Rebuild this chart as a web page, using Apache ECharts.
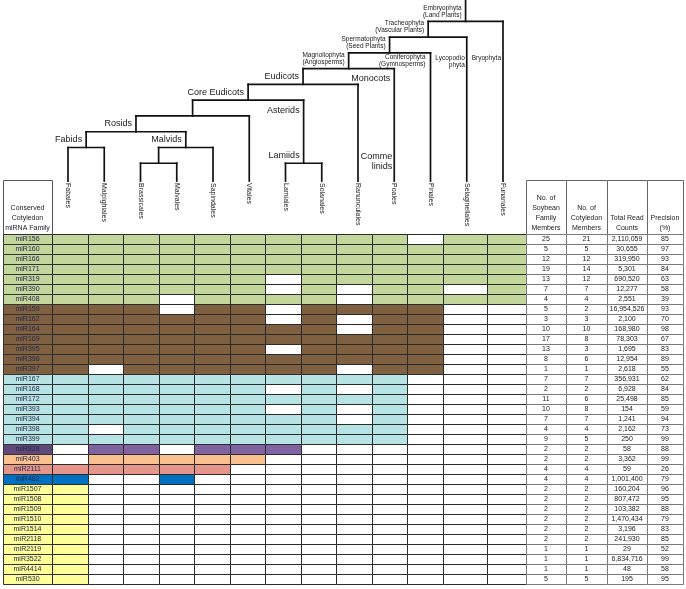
<!DOCTYPE html>
<html><head><meta charset="utf-8">
<script src="https://cdn.jsdelivr.net/npm/echarts@6/dist/echarts.min.js"></script>
<style>html,body{margin:0;padding:0;background:#fff}#c{width:686px;height:589px}</style>
</head><body><div id="c"></div>
<script>
// ---------------- DATA ----------------
const taxa = ['Fabales','Malpighiales','Brassicales','Malvales','Sapindales','Vitales','Lamiales','Solanales','Ranunculales','Poales','Pinales','Selaginellales','Funariales'];

const mirnas = ['miR156','miR160','miR166','miR171','miR319','miR390','miR408',
  'miR159','miR162','miR164','miR169','miR395','miR396','miR397',
  'miR167','miR168','miR172','miR393','miR394','miR398','miR399',
  'miR828','miR403','miR2111','miR482',
  'miR1507','miR1508','miR1509','miR1510','miR1514','miR2118','miR2119','miR3522','miR4414','miR530'];

// group of each row (0 green, 1 brown, 2 cyan, 3 purple, 4 peach, 5 salmon, 6 blue, 7 yellow)
const rowGroups = [0,0,0,0,0,0,0, 1,1,1,1,1,1,1, 2,2,2,2,2,2,2, 3,4,5,6, 7,7,7,7,7,7,7,7,7,7];

// presence of each family in each order (1 = present), columns follow `taxa`
const presence = [
  '1111111111011','1111111111111','1111111111111','1111111111111','1111110111111','1111110101101','1110111101111',
  '1110110111100','1111110101100','1111111101100','1111111111100','1111110111100','1111111111100','1011111101100',
  '1111111111000','1111110101000','1111111111000','1111110101000','1111111101000','1011111111000','1111111111000',
  '0110111000000','0111110000000','1111100000000','1001000000000',
  '1000000000000','1000000000000','1000000000000','1000000000000','1000000000000',
  '1000000000000','1000000000000','1000000000000','1000000000000','1000000000000'];

const soybeanMembers   = [25,5,12,19,13,7,4, 5,3,10,17,13,8,1, 7,2,11,10,7,4,9, 2,2,4,4, 2,2,2,2,2,2,1,1,1,5];
const cotyledonMembers = [21,5,12,14,12,7,4, 2,3,10,8,3,6,1, 7,2,6,8,7,4,5, 2,2,4,4, 2,2,2,2,2,2,1,1,1,5];
const totalReadCounts  = [2110059,30655,319950,5301,690520,12277,2551,
  16954526,2100,168980,78303,1695,12954,2618,
  356931,6928,25498,154,1241,2162,250,
  58,3362,59,1001400,
  160204,807472,103382,1470434,3196,241930,29,6834716,48,195];
const precision = [85,97,93,84,63,58,39, 93,70,98,67,83,89,55, 62,84,85,59,94,73,99, 88,99,26,79, 96,95,88,79,83,85,52,99,58,95];

const labelHeader = 'Conserved\nCotyledon\nmiRNA Family';
const rightHeaders = ['No. of\nSoybean\nFamily\nMembers','No. of\nCotyledon\nMembers','Total Read\nCounts','Precision\n(%)'];

// phylogeny: leaves are indices into `taxa`, level = rank of the node
const tree = {id:'Embryophyta', level:10, children:[
  {id:'Tracheophyta', level:9, children:[
    {id:'Spermatophyta', level:8, children:[
      {id:'Magnoliophyta', level:7, children:[
        {id:'Eudicots', level:6, children:[
          {id:'CoreEudicots', level:5, children:[
            {id:'Core', level:4, children:[
              {id:'Rosids', level:3, children:[
                {id:'Fabids', level:2, children:[0,1]},
                {id:'Malvids', level:2, children:[{id:'BraMal', level:1, children:[2,3]}, 4]}
              ]}, 5]},
            {id:'Lamiids', level:1, children:[6,7]}
          ]}, 8]}, 9]}, 10]}, 11]}, 12]};

const nodeLabels = [
  {text:'Embryophyta\n(Land Plants)', node:'Embryophyta'},
  {text:'Tracheophyta\n(Vascular Plants)', node:'Tracheophyta'},
  {text:'Spermatophyta\n(Seed Plants)', node:'Spermatophyta'},
  {text:'Magnoliophyta\n(Angiosperms)', node:'Magnoliophyta'},
  {text:'Eudicots', node:'Eudicots'},
  {text:'Core Eudicots', node:'CoreEudicots'},
  {text:'Rosids', node:'Rosids'},
  {text:'Fabids', node:'Fabids'},
  {text:'Malvids', node:'Malvids'},
  {text:'Lamiids', node:'Lamiids'}
];
const branchLabels = [
  {text:'Asterids', branch:'Lamiids'},
  {text:'Monocots', branch:9},
  {text:'Comme\nlinids', branch:9},
  {text:'Coniferophyta\n(Gymnosperms)', branch:10},
  {text:'Lycopodio\nphyta', branch:11},
  {text:'Bryophyta', branch:12}
];

// ---------------- LAYOUT / STYLE ----------------
const FONT = '"Liberation Sans", Arial, sans-serif';
const groupFill = ['#c3d69b','#7f6141','#b7e3e4','#8064a2','#fac090','#e6958a','#0070c0','#ffff99'];
const groupLabelFill = ['#c3d69b','#7f6141','#b7e3e4','#5f497a','#fac090','#e6958a','#0070c0','#ffff99'];
const smallLabels = {'Embryophyta\n(Land Plants)':1,'Tracheophyta\n(Vascular Plants)':1,'Spermatophyta\n(Seed Plants)':1,
  'Magnoliophyta\n(Angiosperms)':1,'Coniferophyta\n(Gymnosperms)':1,'Lycopodio\nphyta':1,'Bryophyta':1};
const branchLayout = [ {top:4.64, dx:4}, {top:6.67, dx:4}, {top:1.72, dx:2}, {top:7.93, dx:5}, {top:7.87, dx:2}, {top:7.87, dx:2} ];
const colWeights = [1,1,1,1,1,1,1,1,1,1,1,1.24,1.1];
const colEdges = [0]; colWeights.forEach(w => colEdges.push(colEdges[colEdges.length-1] + w));
const W = colEdges[colEdges.length-1];
const rightWidths = [40,41,40,36];
const rightEdges = [0]; rightWidths.forEach(w => rightEdges.push(rightEdges[rightEdges.length-1] + w));
const LEAF_BOTTOM = -0.13, ROOT_TOP = 11.36, HEAD_TOP = -5.4;

// ---------------- TREE GEOMETRY (derived) ----------------
const segs = [], nodePos = {};
function walk(n){
  if (typeof n === 'number') return {x:n, top:LEAF_BOTTOM};
  const kids = n.children.map(walk);
  const x = (kids[0].x + kids[kids.length-1].x) / 2;
  segs.push([kids[0].x, n.level, kids[kids.length-1].x, n.level]);
  kids.forEach(k => segs.push([k.x, n.level, k.x, k.top]));
  nodePos[n.id] = {x:x, y:n.level};
  return {x:x, top:n.level};
}
const rootPos = walk(tree);
segs.push([rootPos.x, tree.level, rootPos.x, ROOT_TOP]);

const labelData = [];
nodeLabels.forEach((l,i) => labelData.push([nodePos[l.node].x, nodePos[l.node].y, 0, i]));
branchLabels.forEach((l,i) => {
  const bx = typeof l.branch === 'number' ? l.branch : nodePos[l.branch].x;
  labelData.push([bx, branchLayout[i].top, 1, i]);
});

function txt(x, y, text, o){
  return {type:'text', x:x, y:y, style:Object.assign({text:text, fill:'#222', fontFamily:FONT, fontSize:7,
    align:'center', verticalAlign:'middle', lineHeight:10}, o||{})};
}
const crisp = v => Math.round(v) + 0.5;
function rectEl(p0, p1, fill, stroke){
  const x0 = crisp(p0[0]), y0 = crisp(p0[1]), x1 = crisp(p1[0]), y1 = crisp(p1[1]);
  return {type:'rect', shape:{x:x0, y:y0, width:x1-x0, height:y1-y0}, style:{fill:fill, stroke:stroke, lineWidth:1}};
}

// data for table series
const cellData = [];
presence.forEach((s,r) => { for (let c=0;c<taxa.length;c++) cellData.push([c, r, +s[c]]); });
const rightData = [];
mirnas.forEach((m,r) => { for (let c=0;c<4;c++) rightData.push([c, r]); });
const rightValue = (c, r) => c===0 ? String(soybeanMembers[r]) : c===1 ? String(cotyledonMembers[r])
  : c===2 ? totalReadCounts[r].toLocaleString('en-US') : String(precision[r]);

const hidden = {show:false};
const rowAxis = gi => ({type:'value', gridIndex:gi, min:HEAD_TOP, max:mirnas.length, inverse:true, show:false});

const option = {
  animation:false,
  backgroundColor:'#fff',
  grid:[
    {left:68, width:435, top:0, height:179, outerBoundsMode:'none', containLabel:false},
    {left:3, width:49, top:180, height:404, outerBoundsMode:'none', containLabel:false},
    {left:52, width:474, top:180, height:404, outerBoundsMode:'none', containLabel:false},
    {left:526, width:157, top:180, height:404, outerBoundsMode:'none', containLabel:false}
  ],
  xAxis:[
    {type:'value', gridIndex:0, min:0, max:taxa.length-1, show:false},
    {type:'category', gridIndex:0, data:taxa, boundaryGap:false, position:'bottom',
      axisLine:{show:false}, axisTick:{show:false}, splitLine:{show:false},
      axisLabel:{interval:0, rotate:-90, margin:4, fontSize:7, fontFamily:FONT, color:'#222'}},
    {type:'value', gridIndex:1, min:0, max:1, show:false},
    {type:'value', gridIndex:2, min:0, max:W, show:false},
    {type:'value', gridIndex:3, min:0, max:rightEdges[4], show:false}
  ],
  yAxis:[
    {type:'value', gridIndex:0, min:0, max:ROOT_TOP, show:false},
    rowAxis(1), rowAxis(2), rowAxis(3)
  ],
  series:[
    { // tree branches
      type:'custom', xAxisIndex:0, yAxisIndex:0, silent:true, data:segs,
      renderItem:(params, api) => {
        const a = api.coord([api.value(0), api.value(1)]), b = api.coord([api.value(2), api.value(3)]);
        return {type:'line', shape:{x1:a[0], y1:a[1], x2:b[0], y2:b[1]},
          style:{stroke:'#111', lineWidth:1.7, lineCap:'square'}};
      }
    },
    { // tree labels
      type:'custom', xAxisIndex:0, yAxisIndex:0, silent:true, data:labelData,
      renderItem:(params, api) => {
        const kind = api.value(2), i = api.value(3);
        const p = api.coord([api.value(0), api.value(1)]);
        const text = kind === 0 ? nodeLabels[i].text : branchLabels[i].text;
        const small = !!smallLabels[text];
        const st = {align:'right', fontSize: small ? 6.5 : 9, lineHeight: small ? 7 : 10, fill:'#1a1a1a'};
        if (kind === 0) return txt(p[0]-4, p[1]-3, text, Object.assign(st, {verticalAlign:'bottom'}));
        return txt(p[0]-branchLayout[i].dx, p[1], text, Object.assign(st, {verticalAlign:'top'}));
      }
    },
    { // label column (header + rows)
      type:'custom', xAxisIndex:2, yAxisIndex:1, silent:true, data:[-1].concat(mirnas.map((m,i)=>i)),
      renderItem:(params, api) => {
        const r = api.value(0);
        if (r < 0) {
          const p0 = api.coord([0, HEAD_TOP]), p1 = api.coord([1, 0]);
          const t = api.coord([0.5, -0.1]);
          return {type:'group', children:[rectEl(p0, p1, '#fff', '#555'),
            txt(t[0], t[1], labelHeader, {verticalAlign:'bottom'})]};
        }
        const p0 = api.coord([0, r]), p1 = api.coord([1, r+1]), t = api.coord([0.5, r+0.5]);
        return {type:'group', children:[rectEl(p0, p1, groupLabelFill[rowGroups[r]], '#333'),
          txt(t[0], t[1]+0.5, mirnas[r], {fill:'#22284a'})]};
      }
    },
    { // matrix cells
      type:'custom', xAxisIndex:3, yAxisIndex:2, silent:true, data:cellData,
      renderItem:(params, api) => {
        const c = api.value(0), r = api.value(1), v = api.value(2);
        const p0 = api.coord([colEdges[c], r]), p1 = api.coord([colEdges[c+1], r+1]);
        return rectEl(p0, p1, v ? groupFill[rowGroups[r]] : '#fff', '#2a2a2a');
      }
    },
    { // right table headers
      type:'custom', xAxisIndex:4, yAxisIndex:3, silent:true, data:[0,1,2,3],
      renderItem:(params, api) => {
        const c = api.value(0);
        const p0 = api.coord([rightEdges[c], HEAD_TOP]), p1 = api.coord([rightEdges[c+1], 0]);
        const t = api.coord([(rightEdges[c]+rightEdges[c+1])/2, -0.1]);
        return {type:'group', children:[rectEl(p0, p1, '#fff', '#666'),
          txt(t[0], t[1], rightHeaders[c], {verticalAlign:'bottom'})]};
      }
    },
    { // right table values
      type:'custom', xAxisIndex:4, yAxisIndex:3, silent:true, data:rightData,
      renderItem:(params, api) => {
        const c = api.value(0), r = api.value(1);
        const p0 = api.coord([rightEdges[c], r]), p1 = api.coord([rightEdges[c+1], r+1]);
        const t = api.coord([(rightEdges[c]+rightEdges[c+1])/2, r+0.5]);
        return {type:'group', children:[rectEl(p0, p1, '#fff', '#7a7a7a'),
          txt(t[0], t[1]+0.5, rightValue(c, r))]};
      }
    }
  ]
};
const chart = echarts.init(document.getElementById('c'));
chart.setOption(option);
</script>
</body></html>
